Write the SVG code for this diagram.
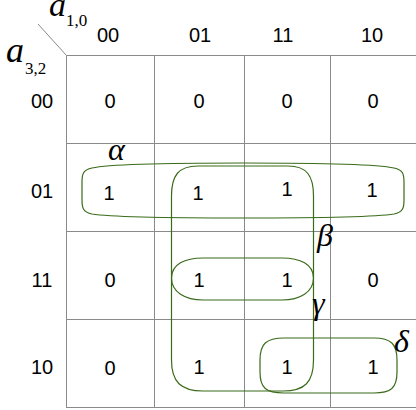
<svg xmlns="http://www.w3.org/2000/svg" width="416" height="410" viewBox="0 0 416 410">
<style>
.grid{stroke:#8a8a8a;stroke-width:1;fill:none}
.num{font-family:"Liberation Sans",Arial,sans-serif;font-size:20px;fill:#000;text-anchor:middle}
.var{font-family:"Liberation Serif","Times New Roman",serif;font-style:italic;fill:#000}
.sub{font-family:"Liberation Serif","Times New Roman",serif;fill:#000;font-size:17px}
.grp{fill:none;stroke:#3a6b1a;stroke-width:1.2}
.greek{font-family:"Liberation Serif","Times New Roman",serif;font-style:italic;font-size:32px;fill:#000}
</style>
<rect width="416" height="410" fill="#fff"/>
<g id="grid">
<path class="grid" d="M66.5,55.5H416M66.5,143.5H416M66.5,231.5H416M66.5,319.5H416M66.5,407.5H416"/>
<path class="grid" d="M66.5,55.5V408M154.5,55.5V408M244.5,55.5V408M330.5,55.5V408"/>
<path class="grid" d="M38,24L66.5,55.5"/>
</g>
<g id="axis-labels">
<text class="var" x="49" y="16" font-size="34">a</text>
<text class="sub" x="66" y="26">1,0</text>
<text class="var" x="6" y="62" font-size="36">a</text>
<text class="sub" x="25" y="74">3,2</text>
</g>
<g id="col-headers">
<text class="num" x="108" y="42">00</text>
<text class="num" x="200" y="42">01</text>
<text class="num" x="283" y="42">11</text>
<text class="num" x="372" y="42">10</text>
</g>
<g id="row-headers">
<text class="num" x="42" y="108">00</text>
<text class="num" x="42" y="198">01</text>
<text class="num" x="42" y="287">11</text>
<text class="num" x="42" y="374">10</text>
</g>
<g id="cells">
<text class="num" x="110" y="108">0</text>
<text class="num" x="199" y="108">0</text>
<text class="num" x="287" y="108">0</text>
<text class="num" x="373" y="108">0</text>
<text class="num" x="109" y="200">1</text>
<text class="num" x="198" y="200">1</text>
<text class="num" x="287" y="196">1</text>
<text class="num" x="372" y="197">1</text>
<text class="num" x="110" y="287">0</text>
<text class="num" x="199" y="287">1</text>
<text class="num" x="287" y="287">1</text>
<text class="num" x="373" y="287">0</text>
<text class="num" x="110" y="375">0</text>
<text class="num" x="199" y="374">1</text>
<text class="num" x="287" y="374">1</text>
<text class="num" x="373" y="374">1</text>
</g>
<g id="connectors"></g>
<g id="group-alpha">
<path class="grp" d="M243,163C160,163 110,164 92,168C83,170 82,174 82,182L82,200C82,208 83,212 92,214C110,217 160,218 243,218C326,218 376,217 394,214C403,212 404,208 404,200L404,182C404,174 403,170 394,168C376,164 326,163 243,163Z"/>
<text class="greek" x="108" y="160">α</text>
</g>
<g id="group-beta">
<path class="grp" d="M171.5,196C171.5,176 178,166 198,166L288,166C307,166 313.5,176 313.5,196L313.5,278C313.5,292 300,300 282,300L203,300C185,300 171.5,292 171.5,278Z"/>
<text class="greek" x="317" y="246">β</text>
</g>
<g id="group-gamma">
<path class="grp" d="M171.5,278C171.5,264 185,258 203,258L282,258C300,258 313.5,264 313.5,278L313.5,360C313.5,382 305,391 283,391L203,391C181,391 171.5,382 171.5,360Z"/>
<text class="greek" x="312" y="314">γ</text>
</g>
<g id="group-delta">
<path class="grp" d="M260,360C260,344 266,338 284,338L374,338C391,338 397,344 397,360L397,372C397,388 391,393 374,393L284,393C266,393 260,388 260,372Z"/>
<text class="greek" x="394" y="352">δ</text>
</g>
</svg>
